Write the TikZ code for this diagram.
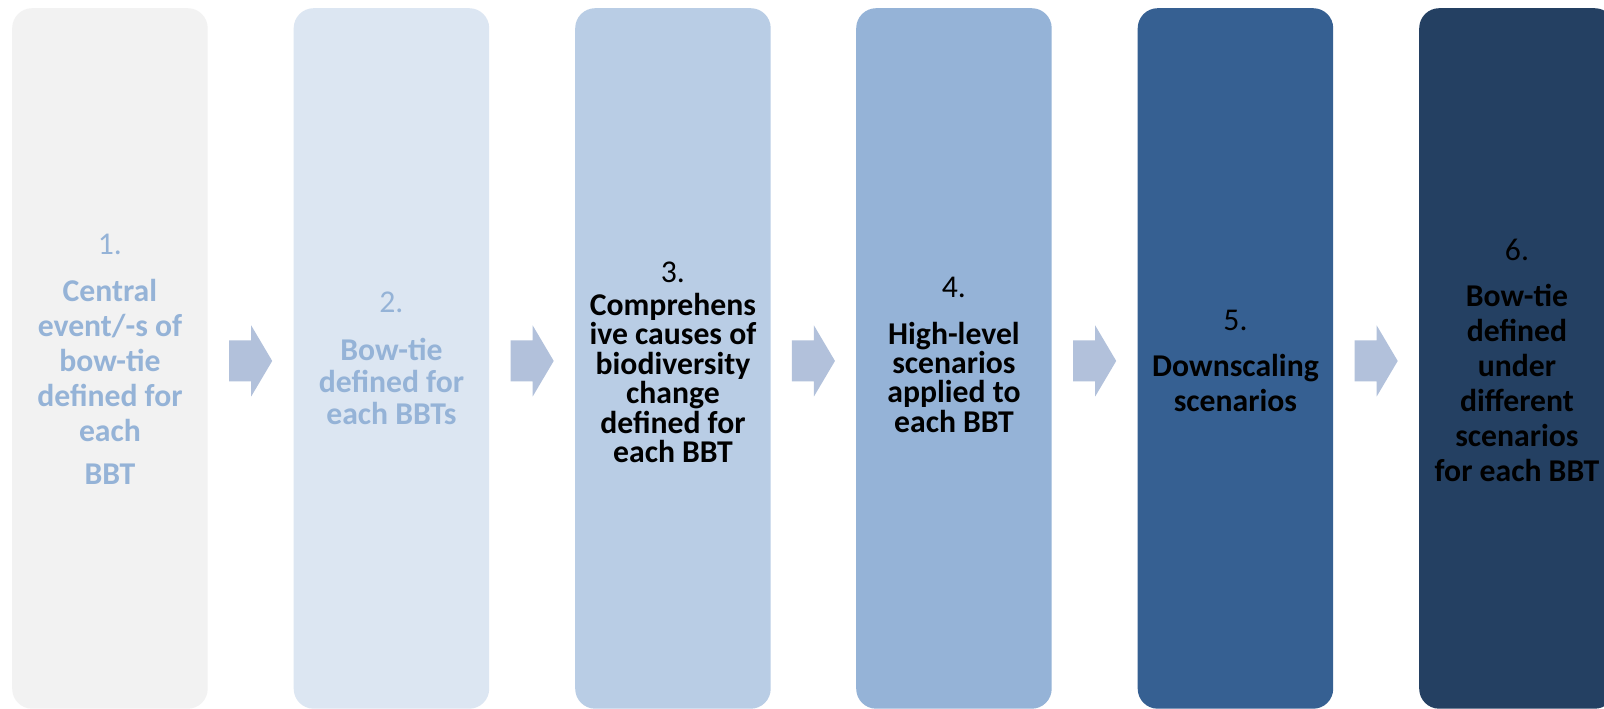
\documentclass[tikz,border=0pt]{standalone}
\usepackage{fontspec}
\setmainfont{Carlito}
\usetikzlibrary{calc}
\definecolor{fillA}{HTML}{F2F2F2}
\definecolor{fillB}{HTML}{DCE6F2}
\definecolor{fillC}{HTML}{B9CDE5}
\definecolor{fillD}{HTML}{95B3D7}
\definecolor{fillE}{HTML}{366092}
\definecolor{fillF}{HTML}{244062}
\definecolor{lighttext}{HTML}{95B3D7}
\definecolor{arrowfill}{HTML}{B2C1DB}
\begin{document}
\begin{tikzpicture}[x=1bp,y=-1bp,
  stagebox/.style={rectangle, rounded corners=20bp, draw=none, minimum width=195.5bp, minimum height=700.5bp, anchor=north west, inner sep=0pt},
  stagetext/.style={anchor=north, align=center, inner sep=0pt},
  blockarrow/.style={fill=arrowfill, draw=none}]
\useasboundingbox (0,0) rectangle (1604,709);
\clip (0,0) rectangle (1604,709);
\fill[white] (0,0) rectangle (1604,709);

\node[stagebox, fill=fillA] (b1) at (12,8) {};
\node[stagebox, fill=fillB] (b2) at (293.5,8) {};
\node[stagebox, fill=fillC] (b3) at (575,8) {};
\node[stagebox, fill=fillD] (b4) at (856,8) {};
\node[stagebox, fill=fillE] (b5) at (1137.5,8) {};
\node[stagebox, fill=fillF] (b6) at (1419,8) {};

\foreach \i/\j in {1/2,2/3,3/4,4/5,5/6}{
  \coordinate (m\i) at ($(b\i.east)!0.5!(b\j.west)$);
  \fill[blockarrow] ([shift={(-21.5,-18)}]m\i) -- ++(22,0) -- ++(0,-15) -- ++(21,35.5) -- ++(-21,35.5) -- ++(0,-15) -- ++(-22,0) -- cycle;
}

\node[stagetext, text=lighttext, font=\fontsize{31.7bp}{35bp}\selectfont] (t1) at (b1.center |- 0,234)
 {1.\\[12bp]\textbf{Central}\\\textbf{event/-s of}\\\textbf{bow-tie}\\\textbf{defined for}\\\textbf{each}\\[8bp]\textbf{BBT}};
\node[stagetext, text=lighttext, font=\fontsize{31.7bp}{32bp}\selectfont] (t2) at (b2.center |- 0,292.1)
 {2.\\[16bp]\textbf{Bow-tie}\\\textbf{defined for}\\\textbf{each BBTs}};
\node[stagetext, text=black, font=\fontsize{31.7bp}{29.5bp}\selectfont] (t3) at (b3.center |- 0,262)
 {3.\\[3bp]\textbf{Comprehens}\\\textbf{ive causes of}\\\textbf{biodiversity}\\\textbf{change}\\\textbf{defined for}\\\textbf{each BBT}};
\node[stagetext, text=black, font=\fontsize{31.7bp}{29.3bp}\selectfont] (t4) at (b4.center |- 0,277.3)
 {4.\\[17bp]\textbf{High-level}\\\textbf{scenarios}\\\textbf{applied to}\\\textbf{each BBT}};
\node[stagetext, text=black, font=\fontsize{31.7bp}{35bp}\selectfont] (t5) at (b5.center |- 0,309.9)
 {5.\\[11bp]\textbf{Downscaling}\\\textbf{scenarios}};
\node[stagetext, text=black, font=\fontsize{31.7bp}{35bp}\selectfont] (t6) at (b6.center |- 0,239.1)
 {6.\\[11bp]\textbf{Bow-tie}\\\textbf{defined}\\\textbf{under}\\\textbf{different}\\\textbf{scenarios}\\\textbf{for each BBT}};
\end{tikzpicture}
\end{document}
